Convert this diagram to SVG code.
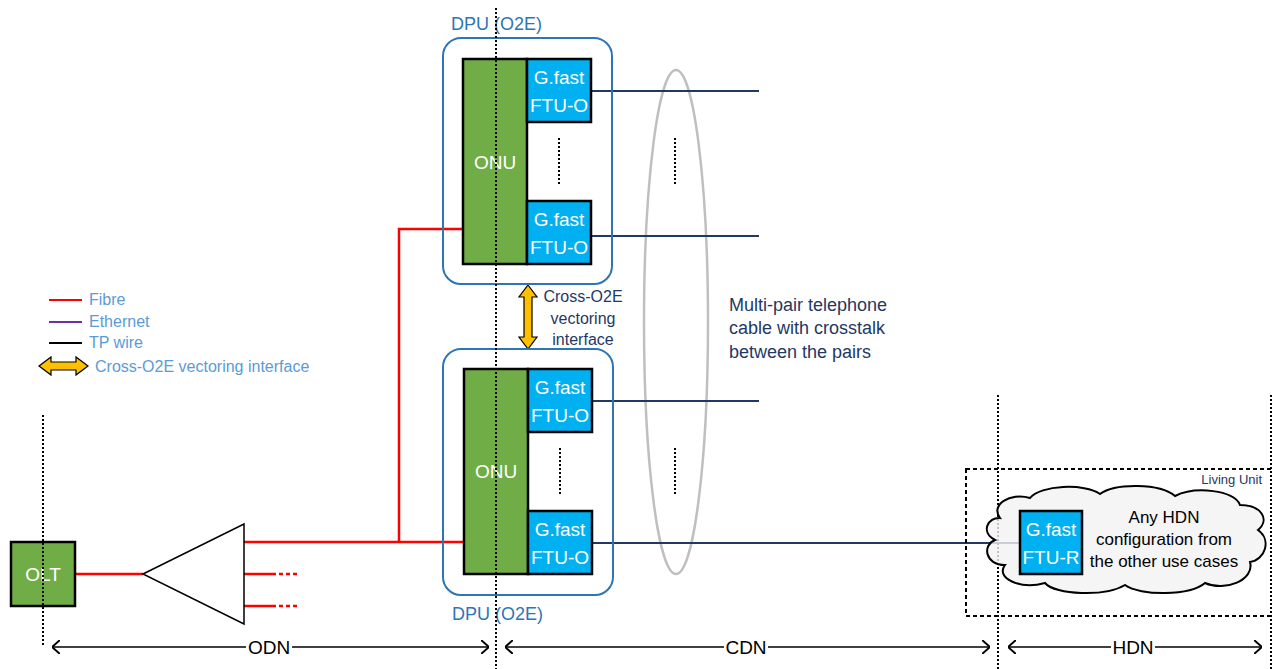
<svg xmlns="http://www.w3.org/2000/svg" width="1272" height="669" viewBox="0 0 1272 669">
<defs>
<style>
.t{font-family:"Liberation Sans",Arial,sans-serif}
.onu{fill:#70AD47;stroke:#000;stroke-width:2.5}
.ftu{fill:#00B0F0;stroke:#000;stroke-width:2.5}
.wt{fill:#fff;font-size:19px;text-anchor:middle}
.dpu{fill:none;stroke:#2E75B6;stroke-width:2}
.dpul{fill:#2E75B6;font-size:18px}
.navy{stroke:#1F3864;stroke-width:2;fill:none}
.red{stroke:#FF0000;stroke-width:2.5;fill:none}
.dot{stroke:#000;stroke-width:2;stroke-dasharray:2 2;fill:none}
.nt{fill:#1F3864}
.lg{fill:#5B9BD5;font-size:16px}
.yel{fill:#FFC000;stroke:#000;stroke-width:1.2}
.dim{stroke:#000;stroke-width:1.5;fill:none}
.dl{font-size:19px;text-anchor:middle;fill:#000}
</style>
<marker id="chev" viewBox="0 0 8 14" refX="8" refY="7" markerWidth="8" markerHeight="14" markerUnits="userSpaceOnUse" orient="auto-start-reverse">
<path d="M0,0 L8,7 L0,14" fill="none" stroke="#000" stroke-width="2"/>
</marker>
</defs>
<rect width="1272" height="669" fill="#fff"/>

<!-- legend -->
<g id="legend" class="t">
<line x1="49" y1="300" x2="82" y2="300" stroke="#FF0000" stroke-width="2"/>
<line x1="49" y1="322" x2="82" y2="322" stroke="#7030A0" stroke-width="2"/>
<line x1="49" y1="343" x2="82" y2="343" stroke="#000" stroke-width="2"/>
<polygon class="yel" points="39,366 51,357 51,362 76,362 76,357 88,366 76,375 76,370 51,370 51,375"/>
<text class="lg" x="89" y="305">Fibre</text>
<text class="lg" x="89" y="327">Ethernet</text>
<text class="lg" x="89" y="348">TP wire</text>
<text class="lg" x="95" y="372">Cross-O2E vectoring interface</text>
</g>

<!-- cable ellipse -->
<g id="cable">
<ellipse cx="676" cy="322" rx="32" ry="252" fill="none" stroke="#BFBFBF" stroke-width="2.5"/>
<line class="dot" x1="675" y1="138" x2="675" y2="186"/>
<line class="dot" x1="675" y1="448" x2="675" y2="495"/>
<g class="t nt" font-size="18">
<text x="729" y="311">Multi-pair telephone</text>
<text x="729" y="334">cable with crosstalk</text>
<text x="729" y="358">between the pairs</text>
</g>
</g>

<!-- connectors -->
<g id="connectors">
<line class="red" x1="75" y1="574" x2="143" y2="574"/>
<polyline class="red" points="244,542 464,542"/>
<polyline class="red" points="399,542 399,229 464,229"/>
<line class="red" x1="244" y1="574" x2="276" y2="574"/>
<line class="red" x1="244" y1="606" x2="276" y2="606"/>
<line x1="279" y1="574" x2="298" y2="574" stroke="#FF0000" stroke-width="2.5" stroke-dasharray="4 3"/>
<line x1="279" y1="606" x2="298" y2="606" stroke="#FF0000" stroke-width="2.5" stroke-dasharray="4 3"/>
<line class="navy" x1="591" y1="91" x2="759" y2="91"/>
<line class="navy" x1="591" y1="236" x2="759" y2="236"/>
<line class="navy" x1="592" y1="401" x2="759" y2="401"/>
<line class="navy" x1="592" y1="543" x2="1021" y2="543"/>
<polygon class="yel" points="528,285 537,297 532,297 532,337 537,337 528,349 519,337 524,337 524,297 519,297"/>
<g class="t nt" font-size="16" text-anchor="middle">
<text x="583" y="302">Cross-O2E</text>
<text x="583" y="324">vectoring</text>
<text x="583" y="345">interface</text>
</g>
</g>

<!-- OLT -->
<g id="olt">
<rect class="onu" x="11" y="542" width="64" height="64"/>
<text class="t wt" x="43" y="581" fill="#E2F0D9">OLT</text>
</g>

<!-- splitter -->
<g id="splitter">
<polygon points="143,574 244,524 244,624" fill="#fff" stroke="#000" stroke-width="1.5"/>
</g>

<!-- DPU top -->
<g id="dpu-top">
<rect class="dpu" x="443" y="38" width="169" height="246" rx="18"/>
<text class="t dpul" x="451" y="30">DPU (O2E)</text>
<rect class="onu" x="463" y="59" width="64" height="205"/>
<text class="t wt" x="495" y="169" fill="#E2F0D9">ONU</text>
<rect class="ftu" x="527" y="59" width="64" height="63"/>
<text class="t wt" x="559" y="84">G.fast</text>
<text class="t wt" x="559" y="112">FTU-O</text>
<rect class="ftu" x="527" y="201" width="64" height="63"/>
<text class="t wt" x="559" y="226">G.fast</text>
<text class="t wt" x="559" y="254">FTU-O</text>
<line class="dot" x1="559" y1="138" x2="559" y2="185"/>
</g>

<!-- DPU bottom -->
<g id="dpu-bottom">
<rect class="dpu" x="443" y="349" width="170" height="246" rx="18"/>
<text class="t dpul" x="452" y="620">DPU (O2E)</text>
<rect class="onu" x="464" y="369" width="64" height="205"/>
<text class="t wt" x="496" y="478" fill="#E2F0D9">ONU</text>
<rect class="ftu" x="528" y="369" width="64" height="63"/>
<text class="t wt" x="560" y="394">G.fast</text>
<text class="t wt" x="560" y="422">FTU-O</text>
<rect class="ftu" x="528" y="511" width="64" height="63"/>
<text class="t wt" x="560" y="536">G.fast</text>
<text class="t wt" x="560" y="564">FTU-O</text>
<line class="dot" x1="560" y1="448" x2="560" y2="495"/>
</g>

<!-- living unit -->
<g id="living-unit">
<rect x="966" y="469" width="310" height="147" fill="none" stroke="#000" stroke-width="2" stroke-dasharray="4 3"/>
<text class="t nt" x="1262" y="484" font-size="13" text-anchor="end">Living Unit</text>
</g>

<!-- boundaries -->
<g id="boundaries">
<line class="dot" x1="43" y1="415" x2="43" y2="646"/>
<line class="dot" x1="496" y1="8" x2="496" y2="669"/>
<line class="dot" x1="998" y1="395" x2="998" y2="669"/>
<line class="dot" x1="1271" y1="395" x2="1271" y2="669"/>
</g>

<!-- HDN cloud -->
<g id="hdn">
<path d="M1000,518 C990,505 1010,492 1030,498 C1040,485 1085,483 1100,494 C1115,483 1160,483 1175,496 C1195,486 1235,490 1240,505 C1262,505 1270,520 1258,530 C1272,540 1265,560 1250,562 C1255,580 1225,592 1205,583 C1190,596 1140,596 1125,585 C1105,597 1055,595 1045,583 C1020,590 995,578 1005,565 C985,565 982,545 995,540 C980,532 988,517 1000,518 Z" fill="#F2F2F2" fill-opacity="0.8" stroke="#000" stroke-width="2"/>
<rect class="ftu" x="1020" y="511" width="62" height="63"/>
<text class="t wt" x="1051" y="536">G.fast</text>
<text class="t wt" x="1051" y="564">FTU-R</text>
<g class="t" font-size="17" text-anchor="middle" fill="#000">
<text x="1164" y="523">Any HDN</text>
<text x="1164" y="545">configuration from</text>
<text x="1164" y="567">the other use cases</text>
</g>
</g>

<!-- dimensions -->
<g id="dimensions" class="t">
<line class="dim" x1="52" y1="647" x2="489" y2="647" marker-start="url(#chev)" marker-end="url(#chev)"/>
<rect x="246" y="636" width="46" height="22" fill="#fff"/>
<text class="dl" x="269" y="654">ODN</text>
<line class="dim" x1="505" y1="647" x2="990" y2="647" marker-start="url(#chev)" marker-end="url(#chev)"/>
<rect x="724" y="636" width="44" height="22" fill="#fff"/>
<text class="dl" x="746" y="654">CDN</text>
<line class="dim" x1="1008" y1="647" x2="1262" y2="647" marker-start="url(#chev)" marker-end="url(#chev)"/>
<rect x="1111" y="636" width="44" height="22" fill="#fff"/>
<text class="dl" x="1133" y="654">HDN</text>
</g>
</svg>
